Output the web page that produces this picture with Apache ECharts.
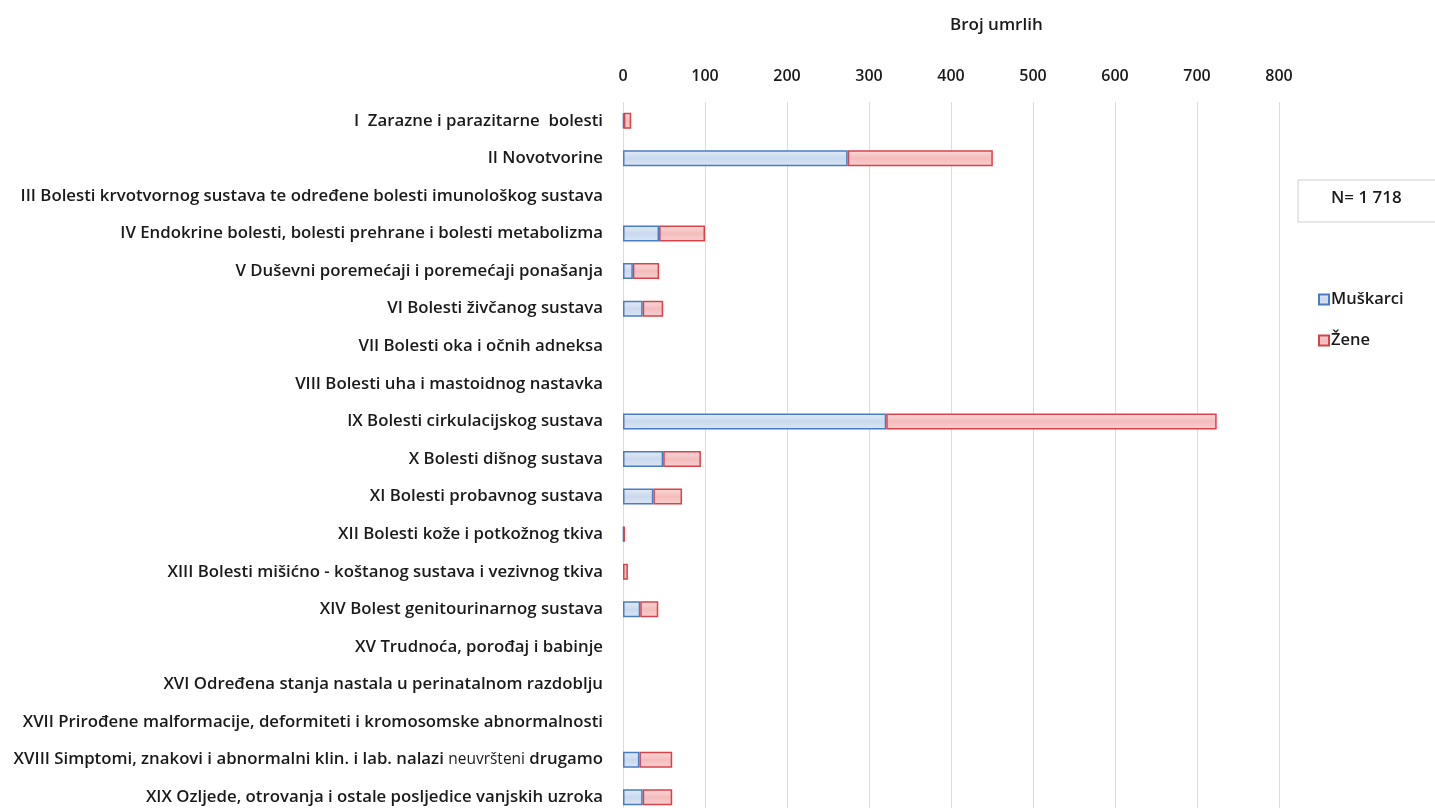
<!DOCTYPE html>
<html>
<head>
<meta charset="utf-8">
<script src="https://cdn.jsdelivr.net/npm/echarts@6/dist/echarts.min.js"></script>
<style>html,body{margin:0;padding:0;background:#fff;overflow:hidden;}#c{width:1435px;height:830px;}</style>
</head>
<body>
<div id="c"></div>
<script>
const categories = [
  "I  Zarazne i parazitarne  bolesti",
  "II Novotvorine",
  "III Bolesti krvotvornog sustava te određene bolesti imunološkog sustava",
  "IV Endokrine bolesti, bolesti prehrane i bolesti metabolizma",
  "V Duševni poremećaji i poremećaji ponašanja",
  "VI Bolesti živčanog sustava",
  "VII Bolesti oka i očnih adneksa",
  "VIII Bolesti uha i mastoidnog nastavka",
  "IX Bolesti cirkulacijskog sustava",
  "X Bolesti dišnog sustava",
  "XI Bolesti probavnog sustava",
  "XII Bolesti kože i potkožnog tkiva",
  "XIII Bolesti mišićno - koštanog sustava i vezivnog tkiva",
  "XIV Bolest genitourinarnog sustava",
  "XV Trudnoća, porođaj i babinje",
  "XVI Određena stanja nastala u perinatalnom razdoblju",
  "XVII Prirođene malformacije, deformiteti i kromosomske abnormalnosti",
  "XVIII Simptomi, znakovi i abnormalni klin. i lab. nalazi neuvršteni drugamo",
  "XIX Ozljede, otrovanja i ostale posljedice vanjskih uzroka"
];
const muskarci = [1, 274, 0, 44, 12, 24, 0, 0, 321, 49, 37, 1, 0, 21, 0, 0, 0, 20, 24];
const zene     = [9, 177, 0, 56, 32, 25, 0, 0, 403, 46, 35, 1, 6, 22, 0, 0, 0, 40, 36];
const seriesNames = ["Muškarci", "Žene"];
const axisTitle = "Broj umrlih";
const totalText = "N= 1 718";

const nz = arr => arr.map(v => (v === 0 ? null : v));

const chart = echarts.init(document.getElementById('c'));
const font = 'Open Sans';
const fw = 600;
const ink = '#1a1a1a';
chart.setOption({
  animation: false,
  backgroundColor: '#ffffff',
  textStyle: { fontFamily: font },
  grid: { left: 623, width: 656, top: 102, height: 714, containLabel: false },
  legend: {
    orient: 'vertical', left: 1313, top: 286, itemGap: 24,
    itemWidth: 10, itemHeight: 10, icon: 'rect',
    textStyle: { fontFamily: font, fontSize: 16.5, fontWeight: fw, color: ink, padding: [0,0,0,-3] },
    data: seriesNames
  },
  xAxis: {
    type: 'value', position: 'top', min: 0, max: 800, interval: 100,
    axisLine: { show: false }, axisTick: { show: false },
    axisLabel: { fontFamily: font, fontSize: 16, fontWeight: fw, color: ink, margin: 18 },
    splitLine: { show: true, lineStyle: { color: '#dcdcdc', width: 1 } }
  },
  yAxis: {
    type: 'category', inverse: true, data: categories,
    axisLine: { show: false }, axisTick: { show: false },
    axisLabel: {
      fontFamily: font, fontSize: 16.8, fontWeight: fw, color: ink, margin: 20,
      formatter: function (v) {
        const m = ' neuvršteni drugamo';
        if (v.endsWith(m)) return v.slice(0, v.length - m.length) + ' {s|neuvršteni} drugamo';
        return v;
      },
      rich: { s: { fontFamily: font, fontSize: 15.5, fontWeight: 400, color: ink } }
    }
  },
  graphic: [
    { type: 'text', left: 950, top: 17, style: { text: axisTitle, fontFamily: font, fontSize: 17, fontWeight: fw, fill: ink } },
    { type: 'rect', shape: { x: 1298, y: 180, width: 150, height: 42 }, style: { fill: '#fff', stroke: '#d0d0d0', lineWidth: 1 } },
    { type: 'text', left: 1331, top: 190, style: { text: totalText, fontFamily: font, fontSize: 17, fontWeight: fw, fill: ink } }
  ],
  series: [
    {
      name: seriesNames[0], type: 'bar', stack: 't', barWidth: 16, data: nz(muskarci),
      itemStyle: {
        color: new echarts.graphic.LinearGradient(0, 0, 0, 1, [
          { offset: 0, color: '#e4ecf7' }, { offset: 0.5, color: '#c9d9ee' }, { offset: 1, color: '#dbe6f4' }
        ]),
        borderColor: '#4a7cc4', borderWidth: 1.5
      }
    },
    {
      name: seriesNames[1], type: 'bar', stack: 't', barWidth: 16, data: nz(zene),
      itemStyle: {
        color: new echarts.graphic.LinearGradient(0, 0, 0, 1, [
          { offset: 0, color: '#fbdada' }, { offset: 0.5, color: '#f4bcbc' }, { offset: 1, color: '#f8d0d0' }
        ]),
        borderColor: '#d8434b', borderWidth: 1.5
      }
    }
  ]
});
</script>
</body>
</html>
